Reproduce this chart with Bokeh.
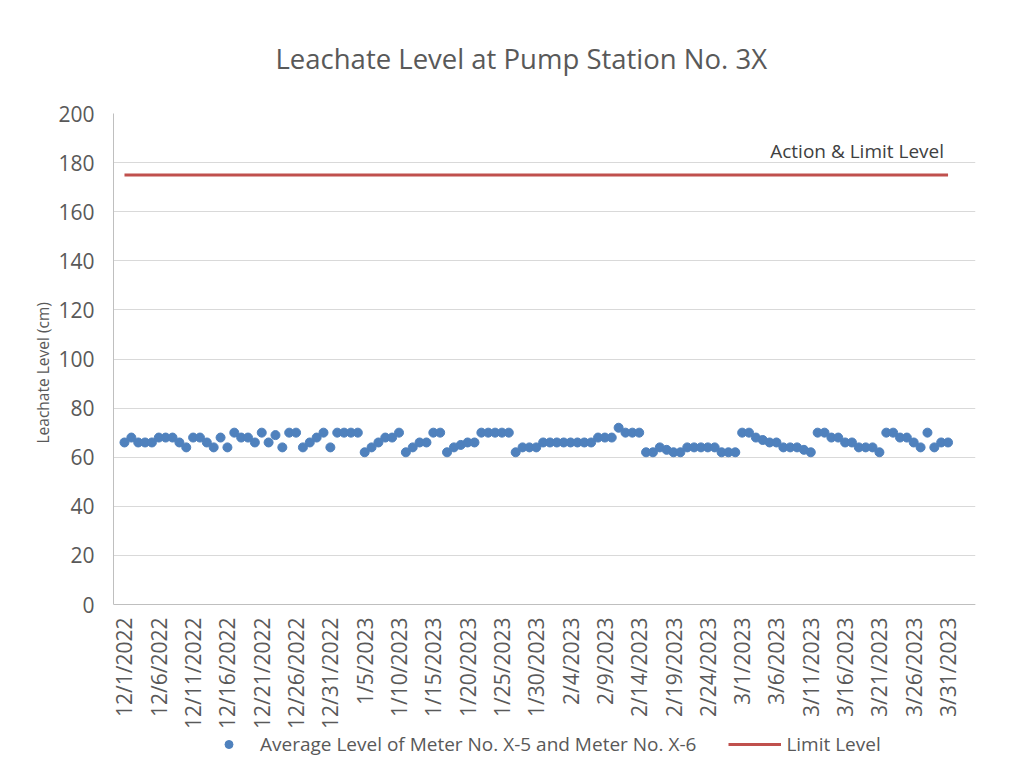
import math
import pandas as pd
from bokeh.plotting import figure
from bokeh.models import (ColumnDataSource, FixedTicker, Legend, LegendItem,
                          Label, Range1d, Title)
from bokeh.embed import file_html
from bokeh.resources import INLINE

# ---------------- data ----------------
dates = pd.date_range("2022-12-01", "2023-03-31", freq="D")

dec_levels = [66, 68, 66, 66, 66, 68, 68, 68, 66, 64, 68, 68, 66, 64, 68, 64,
              70, 68, 68, 66, 70, 66, 69, 64, 70, 70, 64, 66, 68, 70, 64]
jan_levels = [70, 70, 70, 70, 62, 64, 66, 68, 68, 70, 62, 64, 66, 66, 70, 70,
              62, 64, 65, 66, 66, 70, 70, 70, 70, 70, 62, 64, 64, 64, 66]
feb_levels = [66, 66, 66, 66, 66, 66, 66, 68, 68, 68, 72, 70, 70, 70, 62, 62,
              64, 63, 62, 62, 64, 64, 64, 64, 64, 62, 62, 62]
mar_levels = [70, 70, 68, 67, 66, 66, 64, 64, 64, 63, 62, 70, 70, 68, 68, 66,
              66, 64, 64, 64, 62, 70, 70, 68, 68, 66, 64, 70, 64, 66, 66]
levels = dec_levels + jan_levels + feb_levels + mar_levels

limit_level = 175
y_ticks = [0, 20, 40, 60, 80, 100, 120, 140, 160, 180, 200]
tick_step_days = 5

series_name = "Average Level of Meter No. X-5 and Meter No. X-6"
limit_name = "Limit Level"
limit_label = "Action & Limit Level"
title_text = "Leachate Level at Pump Station No. 3X"
y_label = "Leachate Level (cm)"

# ---------------- layout constants ----------------
PLOT_H = 491            # pixel height of the 0..200 band
EXTRA_H = 166           # room below the 0 line for date labels and legend
Y_MIN, Y_MAX = 0, 200
px_per_unit = PLOT_H / (Y_MAX - Y_MIN)
y_start = Y_MIN - EXTRA_H / px_per_unit
X_PAD_LEFT = 1.6        # days of room left of the first date (keeps its label visible)
X_END = 124
FRAME_W = 862

# ---------------- build ----------------
day_idx = list(range(len(dates)))
tick_pos = [i for i in day_idx if i % tick_step_days == 0]
tick_labels = {i: f"{dates[i].month}/{dates[i].day}/{dates[i].year}" for i in tick_pos}

src = ColumnDataSource(dict(x=day_idx, y=levels))
lim_src = ColumnDataSource(dict(x=[day_idx[0], day_idx[-1]], y=[limit_level, limit_level]))

FONT = "Open Sans"
TXT = "#595959"

p = figure(frame_width=FRAME_W, frame_height=PLOT_H + EXTRA_H, output_backend="svg",
           toolbar_location=None,
           x_range=Range1d(day_idx[0] - X_PAD_LEFT, X_END),
           y_range=Range1d(y_start, Y_MAX),
           min_border_left=113, min_border_right=56, min_border_top=113,
           min_border_bottom=4)
p.outline_line_color = None
p.background_fill_color = "white"
p.border_fill_color = "white"

p.title = Title(text=title_text, align="left", text_font=FONT,
                text_font_size="27.5px", text_font_style="normal",
                text_color=TXT, standoff=73, offset=162)

# y-axis title as a side title
p.add_layout(Title(text=y_label, align="left", offset=327, standoff=4,
                   text_font=FONT, text_font_size="15.5px",
                   text_font_style="normal", text_color=TXT), "left")

# grid
p.xgrid.grid_line_color = None
p.ygrid.grid_line_color = "#d9d9d9"
p.ygrid.grid_line_width = 1

# y axis
p.yaxis.ticker = FixedTicker(ticks=y_ticks)
p.yaxis.bounds = (Y_MIN, Y_MAX)
p.yaxis.axis_line_color = "#bfbfbf"
p.yaxis.major_tick_line_color = None
p.yaxis.minor_tick_line_color = None
p.yaxis.major_label_text_font = FONT
p.yaxis.major_label_text_font_size = "21px"
p.yaxis.major_label_text_color = TXT
p.yaxis.major_label_standoff = 13

# x axis, drawn on the 0 line
p.xaxis.fixed_location = Y_MIN
p.xaxis.ticker = FixedTicker(ticks=tick_pos)
p.xaxis.major_label_overrides = tick_labels
p.xaxis.major_label_orientation = math.pi / 2
p.xaxis.axis_line_color = "#bfbfbf"
p.xaxis.major_tick_line_color = None
p.xaxis.minor_tick_line_color = None
p.xaxis.major_label_text_font = FONT
p.xaxis.major_label_text_font_size = "21px"
p.xaxis.major_label_text_color = TXT
p.xaxis.major_label_standoff = 7

# glyphs
r_line = p.line("x", "y", source=lim_src, line_color="#C0504D", line_width=3)
r_pts = p.scatter("x", "y", source=src, size=9, marker="circle",
                  fill_color="#4F81BD", line_color="#4F81BD")

p.add_layout(Label(x=day_idx[-1], y=184.8, x_offset=-4, text=limit_label,
                   text_align="right", text_baseline="alphabetic",
                   text_font=FONT, text_font_size="19px", text_color="#404040"))

legend = Legend(items=[LegendItem(label=series_name, renderers=[r_pts]),
                       LegendItem(label=limit_name, renderers=[r_line])],
                orientation="horizontal", location=(89, 13),
                glyph_width=53, glyph_height=20, label_standoff=5, spacing=32,
                label_text_font=FONT, label_text_font_size="19px",
                label_text_color=TXT, border_line_color=None,
                background_fill_alpha=0, margin=0, padding=4)
p.add_layout(legend)

open("out.html", "w").write(file_html(p, INLINE))
